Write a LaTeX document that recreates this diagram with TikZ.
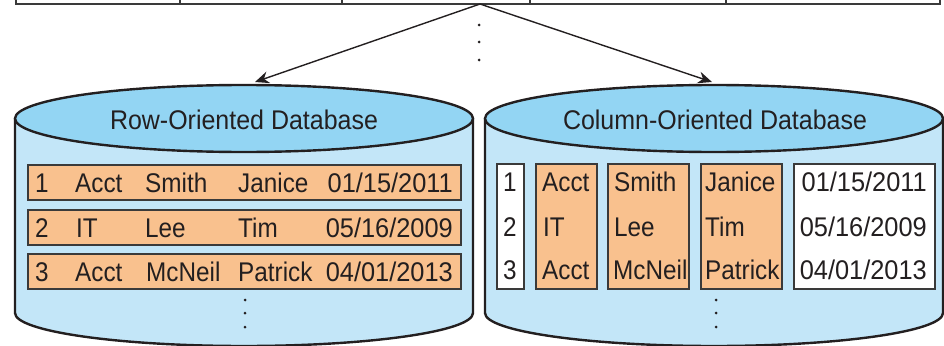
\documentclass[tikz,border=0pt]{standalone}
\usepackage{fontspec}
\setmainfont{Liberation Sans}
\newfontfamily\titlefont{Liberation Sans}[FakeStretch=0.925]
\newfontfamily\cellfont{Liberation Sans}[FakeStretch=0.9]
\newfontfamily\datefont{Liberation Sans}[FakeStretch=0.94]
\usetikzlibrary{arrows.meta}
\definecolor{bodyblue}{HTML}{C3E6F8}
\definecolor{topblue}{HTML}{93D5F3}
\definecolor{cellorange}{HTML}{F9C18E}
\definecolor{ink}{HTML}{231F20}
\definecolor{boxline}{HTML}{3A3A3A}
\begin{document}
\begin{tikzpicture}[x=1pt,y=-1pt,
  outline/.style={draw=ink,line width=2.4pt},
  tablestyle/.style={draw=boxline,line width=2pt},
  rowbox/.style={draw=boxline,line width=1.3pt,fill=cellorange,inner sep=0pt,minimum height=35pt,minimum width=433pt},
  colbox/.style={draw=boxline,line width=1.3pt,inner sep=0pt,minimum height=125pt},
  orangebox/.style={colbox,fill=cellorange},
  whitebox/.style={colbox,fill=white},
  ttl/.style={inner sep=0pt,anchor=base,text=ink,font=\titlefont\fontsize{27}{27}\selectfont},
  cell/.style={inner sep=0pt,anchor=base west,text=ink,font=\cellfont\fontsize{27}{27}\selectfont},
  cellr/.style={inner sep=0pt,anchor=base east,text=ink,font=\datefont\fontsize{27}{27}\selectfont},
  arr/.style={draw=ink,line width=1.4pt,-{Stealth[length=14pt,width=12pt]}},
  vdot/.style={circle,fill=ink,inner sep=0pt,minimum size=3pt}
]
\useasboundingbox (0,0) rectangle (944,345);

% top table (cut off)
\draw[tablestyle] (16,-10) -- (16,4) -- (940,4) -- (940,-10);
\foreach \xx in {180,342,530,726} \draw[tablestyle] (\xx,-10) -- (\xx,4);
\coordinate (src) at (480,4);
\node[vdot] (td1) at (479,25) {};
\node[vdot] (td2) at (479,42) {};
\node[vdot] (td3) at (479,60) {};

% ---------- left cylinder ----------
\fill[bodyblue] (15,118.5) -- (15,313) arc[start angle=180,end angle=360,x radius=229pt,y radius=33pt] -- (473,118.5) -- cycle;
\draw[outline] (15,118.5) -- (15,313) arc[start angle=180,end angle=360,x radius=229pt,y radius=33pt] -- (473,118.5);
\draw[outline,fill=topblue] (244,118.5) ellipse[x radius=229pt,y radius=33.5pt];
\coordinate (ltop) at (255,82);
\node[ttl] (ltitle) at (244,129) {Row-Oriented Database};

\node[rowbox] (r1) at (244.5,182.5) {};
\node[rowbox] (r2) at (244.5,227.5) {};
\node[rowbox] (r3) at (244.5,271.5) {};

\node[cell] (r1a) at (35,192) {1};
\node[cell] (r1b) at (75,192) {Acct};
\node[cell] (r1c) at (145,192) {Smith};
\node[cell] (r1d) at (238,192) {Janice};
\node[cellr] (r1e) at (453,192) {01/15/2011};

\node[cell] (r2a) at (35,237) {2};
\node[cell] (r2b) at (76,237) {IT};
\node[cell] (r2c) at (145,237) {Lee};
\node[cell] (r2d) at (238,237) {Tim};
\node[cellr] (r2e) at (453,237) {05/16/2009};

\node[cell] (r3a) at (35,281) {3};
\node[cell] (r3b) at (75,281) {Acct};
\node[cell] (r3c) at (146,281) {McNeil};
\node[cell] (r3d) at (238,281) {Patrick};
\node[cellr] (r3e) at (453,281) {04/01/2013};

\node[vdot] (ld1) at (245,300) {};
\node[vdot] (ld2) at (245,313) {};
\node[vdot] (ld3) at (245,327) {};

% ---------- right cylinder ----------
\fill[bodyblue] (485,118.5) -- (485,313) arc[start angle=180,end angle=360,x radius=229pt,y radius=33pt] -- (943,118.5) -- cycle;
\draw[outline] (485,118.5) -- (485,313) arc[start angle=180,end angle=360,x radius=229pt,y radius=33pt] -- (943,118.5);
\draw[outline,fill=topblue] (714,118.5) ellipse[x radius=229pt,y radius=33.5pt];
\coordinate (rtop) at (712,82);
\node[ttl] (rtitle) at (715,129) {Column-Oriented Database};

\node[whitebox,minimum width=27pt] (c1) at (510.5,226.5) {};
\node[orangebox,minimum width=61pt] (c2) at (566.5,226.5) {};
\node[orangebox,minimum width=81pt] (c3) at (648.5,226.5) {};
\node[orangebox,minimum width=81pt] (c4) at (741.5,226.5) {};
\node[whitebox,minimum width=141pt] (c5) at (864.5,226.5) {};

\node[cell] (c1a) at (503,191) {1};
\node[cell] (c1b) at (503,236) {2};
\node[cell] (c1c) at (503,279) {3};
\node[cell] (c2a) at (542,191) {Acct};
\node[cell] (c2b) at (543,236) {IT};
\node[cell] (c2c) at (542,279) {Acct};
\node[cell] (c3a) at (614,191) {Smith};
\node[cell] (c3b) at (614,236) {Lee};
\node[cell] (c3c) at (613,279) {McNeil};
\node[cell] (c4a) at (705,191) {Janice};
\node[cell] (c4b) at (705,236) {Tim};
\node[cell] (c4c) at (705,279) {Patrick};
\node[cellr] (c5a) at (927,191) {01/15/2011};
\node[cellr] (c5b) at (927,236) {05/16/2009};
\node[cellr] (c5c) at (927,279) {04/01/2013};

\node[vdot] (rd1) at (716,300) {};
\node[vdot] (rd2) at (716,313) {};
\node[vdot] (rd3) at (716,327) {};

% arrows
\draw[arr] (src) -- (ltop);
\draw[arr] (src) -- (rtop);
\end{tikzpicture}
\end{document}
